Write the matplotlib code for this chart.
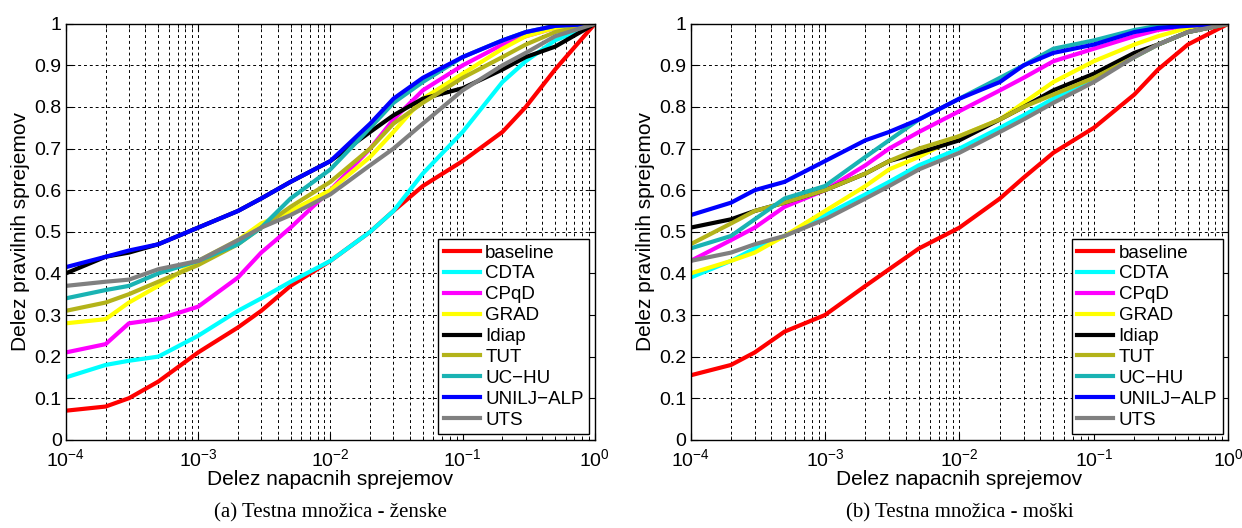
"""ROC curves (DET-like) for the female / male test sets."""

import matplotlib
matplotlib.use("Agg")
import matplotlib.pyplot as plt
from matplotlib.ticker import LogLocator, NullFormatter

plt.rcParams.update({
    "font.family": "Liberation Sans",
    "mathtext.fontset": "custom",
    "mathtext.rm": "Liberation Sans",
    "font.size": 14,
})

# false accept rate grid (read points)
far = [1e-4, 2e-4, 3e-4, 5e-4, 1e-3, 2e-3, 3e-3, 5e-3, 1e-2,
       2e-2, 3e-2, 5e-2, 1e-1, 2e-1, 3e-1, 5e-1, 1.0]

methods = ["baseline", "CDTA", "CPqD", "GRAD", "Idiap", "TUT",
           "UC\u2212HU", "UNILJ\u2212ALP", "UTS"]
colors = ["#ff0000", "#00ffff", "#ff00ff", "#ffff00", "#000000",
          "#b3b31a", "#1ab3b3", "#0000ff", "#808080"]

yticks = [0, 0.1, 0.2, 0.3, 0.4, 0.5, 0.6, 0.7, 0.8, 0.9, 1.0]
ytick_labels = ["0", "0.1", "0.2", "0.3", "0.4", "0.5", "0.6", "0.7", "0.8", "0.9", "1"]

# (a) female test set
f_baseline = [0.07, 0.08, 0.10, 0.14, 0.21, 0.27, 0.31, 0.37, 0.43, 0.50, 0.55, 0.61, 0.67, 0.74, 0.80, 0.89, 1.0]
f_cdta     = [0.15, 0.18, 0.19, 0.20, 0.25, 0.31, 0.34, 0.38, 0.43, 0.50, 0.55, 0.64, 0.74, 0.86, 0.91, 0.96, 1.0]
f_cpqd     = [0.21, 0.23, 0.28, 0.29, 0.32, 0.39, 0.45, 0.51, 0.60, 0.70, 0.77, 0.84, 0.90, 0.95, 0.97, 0.99, 1.0]
f_grad     = [0.28, 0.29, 0.33, 0.37, 0.43, 0.48, 0.52, 0.55, 0.60, 0.68, 0.74, 0.82, 0.88, 0.94, 0.97, 0.99, 1.0]
f_idiap    = [0.40, 0.44, 0.45, 0.47, 0.51, 0.55, 0.58, 0.62, 0.67, 0.74, 0.78, 0.82, 0.845, 0.89, 0.92, 0.945, 1.0]
f_tut      = [0.31, 0.33, 0.35, 0.38, 0.42, 0.47, 0.51, 0.56, 0.62, 0.70, 0.76, 0.81, 0.87, 0.92, 0.95, 0.98, 1.0]
f_uchu     = [0.34, 0.36, 0.37, 0.40, 0.43, 0.47, 0.51, 0.58, 0.65, 0.75, 0.81, 0.86, 0.92, 0.96, 0.98, 0.995, 1.0]
f_unilj    = [0.415, 0.44, 0.455, 0.47, 0.51, 0.55, 0.58, 0.62, 0.67, 0.76, 0.82, 0.87, 0.92, 0.96, 0.98, 0.995, 1.0]
f_uts      = [0.37, 0.38, 0.385, 0.41, 0.43, 0.48, 0.51, 0.54, 0.59, 0.66, 0.70, 0.76, 0.84, 0.90, 0.93, 0.97, 1.0]

# (b) male test set
m_baseline = [0.155, 0.18, 0.21, 0.26, 0.30, 0.37, 0.41, 0.46, 0.51, 0.58, 0.63, 0.69, 0.75, 0.83, 0.89, 0.95, 1.0]
m_cdta     = [0.39, 0.43, 0.46, 0.49, 0.54, 0.59, 0.62, 0.66, 0.70, 0.75, 0.78, 0.82, 0.87, 0.92, 0.95, 0.98, 1.0]
m_cpqd     = [0.43, 0.48, 0.51, 0.56, 0.60, 0.66, 0.70, 0.74, 0.79, 0.84, 0.87, 0.91, 0.94, 0.97, 0.985, 0.995, 1.0]
m_grad     = [0.40, 0.43, 0.45, 0.49, 0.55, 0.61, 0.65, 0.68, 0.73, 0.77, 0.81, 0.86, 0.91, 0.95, 0.97, 0.99, 1.0]
m_idiap    = [0.51, 0.53, 0.55, 0.57, 0.60, 0.64, 0.67, 0.69, 0.72, 0.77, 0.80, 0.84, 0.88, 0.93, 0.95, 0.98, 1.0]
m_tut      = [0.47, 0.52, 0.55, 0.57, 0.60, 0.64, 0.67, 0.70, 0.73, 0.77, 0.80, 0.83, 0.87, 0.92, 0.95, 0.98, 1.0]
m_uchu     = [0.46, 0.49, 0.53, 0.58, 0.61, 0.68, 0.72, 0.77, 0.82, 0.87, 0.90, 0.94, 0.96, 0.985, 0.995, 1.0, 1.0]
m_unilj    = [0.54, 0.57, 0.60, 0.62, 0.67, 0.72, 0.74, 0.77, 0.82, 0.86, 0.90, 0.93, 0.95, 0.98, 0.99, 0.995, 1.0]
m_uts      = [0.43, 0.45, 0.47, 0.49, 0.53, 0.58, 0.61, 0.65, 0.69, 0.74, 0.77, 0.81, 0.86, 0.92, 0.95, 0.98, 1.0]

female = [f_baseline, f_cdta, f_cpqd, f_grad, f_idiap, f_tut, f_uchu, f_unilj, f_uts]
male = [m_baseline, m_cdta, m_cpqd, m_grad, m_idiap, m_tut, m_uchu, m_unilj, m_uts]

captions = ["(a) Testna množica - ženske", "(b) Testna množica - moški"]


def draw(ax, curves):
    for name, c, tpr in zip(methods, colors, curves):
        ax.plot(far, tpr, color=c, linewidth=3, label=name, solid_joinstyle="round")
    ax.set_xscale("log")
    ax.set_xlim(1e-4, 1)
    ax.set_ylim(0, 1)
    ax.xaxis.set_major_locator(LogLocator(base=10, numticks=10))
    ax.xaxis.set_minor_locator(LogLocator(base=10, subs=range(2, 10), numticks=10))
    ax.xaxis.set_minor_formatter(NullFormatter())
    ax.set_yticks(yticks)
    ax.set_yticklabels(ytick_labels)
    ax.grid(True, which="major", color="black", linestyle=(0, (3, 3)), linewidth=0.7)
    ax.grid(True, which="minor", axis="x", color="black", linestyle=(0, (3, 3)), linewidth=0.7)
    ax.tick_params(which="both", direction="in", top=True, right=True, labelsize=14)
    ax.tick_params(which="major", length=5)
    ax.tick_params(which="minor", length=3)
    ax.tick_params(axis="x", pad=6)
    ax.tick_params(axis="y", pad=3)
    for s in ax.spines.values():
        s.set_linewidth(1.0)
    ax.set_xlabel("Delez napacnih sprejemov", fontsize=15, labelpad=0)
    ax.set_ylabel("Delez pravilnih sprejemov", fontsize=15, labelpad=3)
    leg = ax.legend(loc="lower right", fontsize=13.5, handlelength=1.9,
                    handletextpad=0.3, labelspacing=0.2, borderpad=0.3,
                    borderaxespad=0.3, fancybox=False, framealpha=1)
    leg.get_frame().set_edgecolor("black")
    leg.get_frame().set_linewidth(1.0)


fig = plt.figure(figsize=(12.42, 5.28), dpi=100)
ax1 = fig.add_axes([0.053, 0.167, 0.426, 0.788])
ax2 = fig.add_axes([0.556, 0.167, 0.433, 0.788])
draw(ax1, female)
draw(ax2, male)
for ax, cap in zip([ax1, ax2], captions):
    box = ax.get_position()
    fig.text((box.x0 + box.x1) / 2, 0.028, cap, ha="center", va="center",
             fontsize=15, family="Liberation Serif")

fig.savefig("out.png", dpi=100)
